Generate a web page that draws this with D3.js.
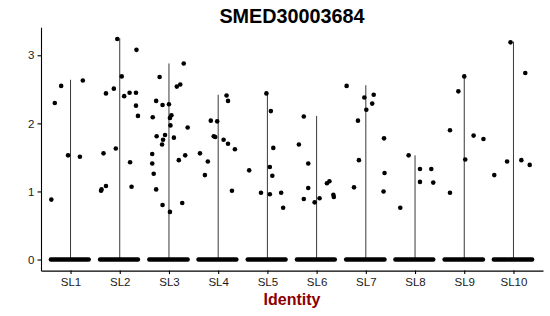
<!DOCTYPE html>
<html>
<head>
<meta charset="utf-8">
<title>SMED30003684</title>
<style>
  body { margin: 0; background: #fff; }
  text { font-family: "Liberation Sans", Arial, sans-serif; }
  .axis path, .axis line { stroke: #000; stroke-width: 1.1px; }
  .axis text { fill: #1a1a1a; font-size: 11.5px; }
</style>
</head>
<body>
<script src="https://cdn.jsdelivr.net/npm/d3@7/dist/d3.min.js"></script>
<script>
const categories = ["SL1", "SL2", "SL3", "SL4", "SL5", "SL6", "SL7", "SL8", "SL9", "SL10"];

// top of each (collapsed) violin
const violinMax = [2.64, 3.25, 2.88, 2.42, 2.45, 2.11, 2.56, 1.53, 2.70, 3.20];

// non-zero cells per identity: [jitter offset, expression]
const sl1 = [[-0.19, 2.55], [-0.32, 2.30], [0.25, 2.63], [-0.05, 1.53], [0.19, 1.51], [-0.39, 0.88]];
const sl2 = [[-0.05, 3.24], [0.34, 3.08], [0.04, 2.69], [-0.12, 2.51], [-0.28, 2.44], [0.09, 2.40],
             [0.20, 2.45], [0.33, 2.45], [0.33, 2.26], [0.37, 2.11], [-0.08, 1.63], [-0.33, 1.56],
             [0.21, 1.43], [-0.28, 1.08], [-0.37, 1.03], [-0.38, 1.01], [0.24, 1.07]];
const sl3 = [[0.30, 2.88], [-0.19, 2.68], [0.16, 2.54], [0.23, 2.57], [-0.26, 2.33], [-0.13, 2.27],
             [0.00, 2.28], [-0.33, 2.09], [0.05, 2.12], [0.02, 2.08], [0.03, 1.97], [0.38, 1.94],
             [-0.25, 1.81], [-0.08, 1.83], [-0.12, 1.76], [0.10, 1.79], [-0.14, 1.69], [-0.34, 1.55],
             [0.33, 1.53], [0.20, 1.46], [-0.34, 1.41], [-0.31, 1.26], [-0.26, 1.03], [-0.13, 0.80],
             [0.27, 0.83], [0.02, 0.70]];
const sl4 = [[0.17, 2.41], [0.20, 2.33], [-0.15, 2.04], [-0.02, 2.03], [-0.09, 1.81], [-0.06, 1.80],
             [0.11, 1.76], [0.20, 1.70], [0.34, 1.62], [-0.37, 1.56], [-0.21, 1.44], [-0.27, 1.24],
             [0.28, 1.01]];
const sl5 = [[-0.02, 2.44], [0.07, 2.18], [0.12, 1.64], [-0.37, 1.31], [0.05, 1.36], [0.10, 1.23],
             [-0.13, 0.98], [0.05, 0.96], [0.28, 0.98], [0.32, 0.76]];
const sl6 = [[-0.26, 2.10], [-0.36, 1.69], [-0.17, 1.41], [-0.17, 1.05], [-0.26, 0.89], [-0.04, 0.84],
             [0.06, 0.90], [0.21, 1.12], [0.26, 1.15], [0.34, 0.95], [0.35, 0.92]];
const sl7 = [[-0.39, 2.55], [-0.03, 2.38], [0.16, 2.42], [0.13, 2.29], [0.01, 2.20], [-0.16, 2.04],
             [0.37, 1.78], [-0.14, 1.46], [0.38, 1.27], [-0.24, 1.06], [0.36, 1.00]];
const sl8 = [[-0.13, 1.53], [0.10, 1.33], [0.33, 1.33], [0.10, 1.14], [0.37, 1.13], [-0.30, 0.76]];
const sl9 = [[0.00, 2.69], [-0.12, 2.47], [-0.29, 1.90], [0.19, 1.82], [0.39, 1.77], [0.02, 1.47],
             [-0.29, 0.98]];
const sl10 = [[-0.06, 3.19], [0.24, 2.74], [-0.39, 1.24], [-0.13, 1.44], [0.16, 1.46], [0.33, 1.39]];
const groupPoints = [sl1, sl2, sl3, sl4, sl5, sl6, sl7, sl8, sl9, sl10];

// spans of the jittered zero cells (offset from / to)
const zeroSpans = [
  [[-0.40, 0.37]], [[-0.40, 0.37]], [[-0.40, 0.38]], [[-0.40, 0.37]], [[-0.40, 0.37]],
  [[-0.40, 0.37]], [[-0.40, 0.38]], [[-0.40, 0.37]], [[-0.40, 0.38]],
  [[-0.40, -0.14], [-0.10, 0.06], [0.10, 0.38]]
];

const yTicks = [0, 1, 2, 3];

const width = 550, height = 316;
const svg = d3.select("body").append("svg")
  .attr("width", width).attr("height", height);

const x = d3.scalePoint().domain(categories).range([41, 543]).padding(0.6);
const step = x.step();
const y = d3.scaleLinear().domain([-0.1625, 3.4125]).range([270.6, 27.2]);

// axes
svg.append("g").attr("class", "axis")
  .attr("transform", "translate(41,0)")
  .call(d3.axisLeft(y).tickValues(yTicks).tickFormat(d3.format("d")).tickSize(3.5).tickSizeOuter(0).tickPadding(3));

svg.append("g").attr("class", "axis")
  .attr("transform", "translate(0,270.6)")
  .call(d3.axisBottom(x).tickSize(3.5).tickSizeOuter(0).tickPadding(4));

svg.selectAll(".axis .domain").attr("stroke", "#000");

const g = svg.append("g");

// violins collapse to thin lines
g.selectAll("line.violin")
  .data(categories)
  .join("line")
  .attr("class", "violin")
  .attr("x1", d => x(d)).attr("x2", d => x(d))
  .attr("y1", y(0)).attr("y2", (d, i) => y(violinMax[i]))
  .attr("stroke", "#222")
  .attr("stroke-width", 0.9);

// zero cells
categories.forEach((c, i) => {
  g.selectAll("line.zero" + i)
    .data(zeroSpans[i])
    .join("line")
    .attr("x1", d => x(c) + d[0] * step)
    .attr("x2", d => x(c) + d[1] * step)
    .attr("y1", y(0)).attr("y2", y(0))
    .attr("stroke", "#000")
    .attr("stroke-width", 4.4)
    .attr("stroke-linecap", "round");
});

// expressing cells
categories.forEach((c, i) => {
  g.selectAll("circle.p" + i)
    .data(groupPoints[i])
    .join("circle")
    .attr("cx", d => x(c) + d[0] * step)
    .attr("cy", d => y(d[1]))
    .attr("r", 2.3)
    .attr("fill", "#000");
});

// titles
svg.append("text")
  .attr("x", 292).attr("y", 22.5)
  .attr("text-anchor", "middle")
  .style("font-size", "19.8px").style("font-weight", "bold")
  .text("SMED30003684");

svg.append("text")
  .attr("x", 292).attr("y", 304.5)
  .attr("text-anchor", "middle")
  .style("font-size", "16px").style("font-weight", "bold")
  .attr("fill", "#8B0000")
  .text("Identity");
</script>
</body>
</html>
